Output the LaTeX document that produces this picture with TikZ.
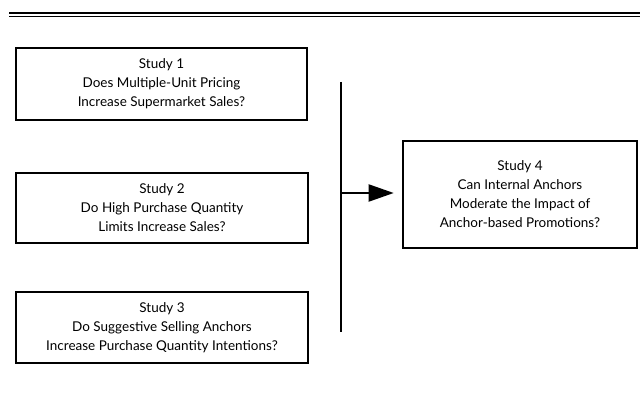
\documentclass[tikz,border=0pt]{standalone}
\usepackage{fontspec}
\setmainfont{Lato}
\usetikzlibrary{arrows.meta}
\begin{document}
\begin{tikzpicture}[x=1pt,y=-1pt,
  studybox/.style={draw=black, line width=2.6pt, minimum height=#1, align=center, inner sep=0pt,
    font=\fontsize{13.5}{19}\selectfont},
  divider/.style={line width=2pt},
  link/.style={line width=2pt, shorten >=8pt, -{Triangle[length=25pt,width=17pt]}}]
\useasboundingbox (0,0) rectangle (640,393);
\draw[line width=2pt] (9,12.8) -- (640,12.8);
\draw[line width=1.3pt] (9,16.4) -- (640,16.4);
\node[studybox=72pt, minimum width=291pt] (s1) at (161.5,84) {Study 1\\Does Multiple-Unit Pricing\\Increase Supermarket Sales?};
\node[studybox=70pt, minimum width=292pt] (s2) at (162,208) {Study 2\\Do High Purchase Quantity\\Limits Increase Sales?};
\node[studybox=71pt, minimum width=292pt] (s3) at (162,327.5) {Study 3\\Do Suggestive Selling Anchors\\Increase Purchase Quantity Intentions?};
\node[studybox=107pt, minimum width=234pt] (s4) at (520,194.5) {Study 4\\Can Internal Anchors\\Moderate the Impact of\\Anchor-based Promotions?};
\coordinate (vtop) at (341,82);
\coordinate (vbot) at (341,332);
\draw[divider] (vtop) -- (vbot);
\coordinate (vmid) at (341,193);
\draw[link] (vmid) -- (s4.west |- vmid);
\end{tikzpicture}
\end{document}
